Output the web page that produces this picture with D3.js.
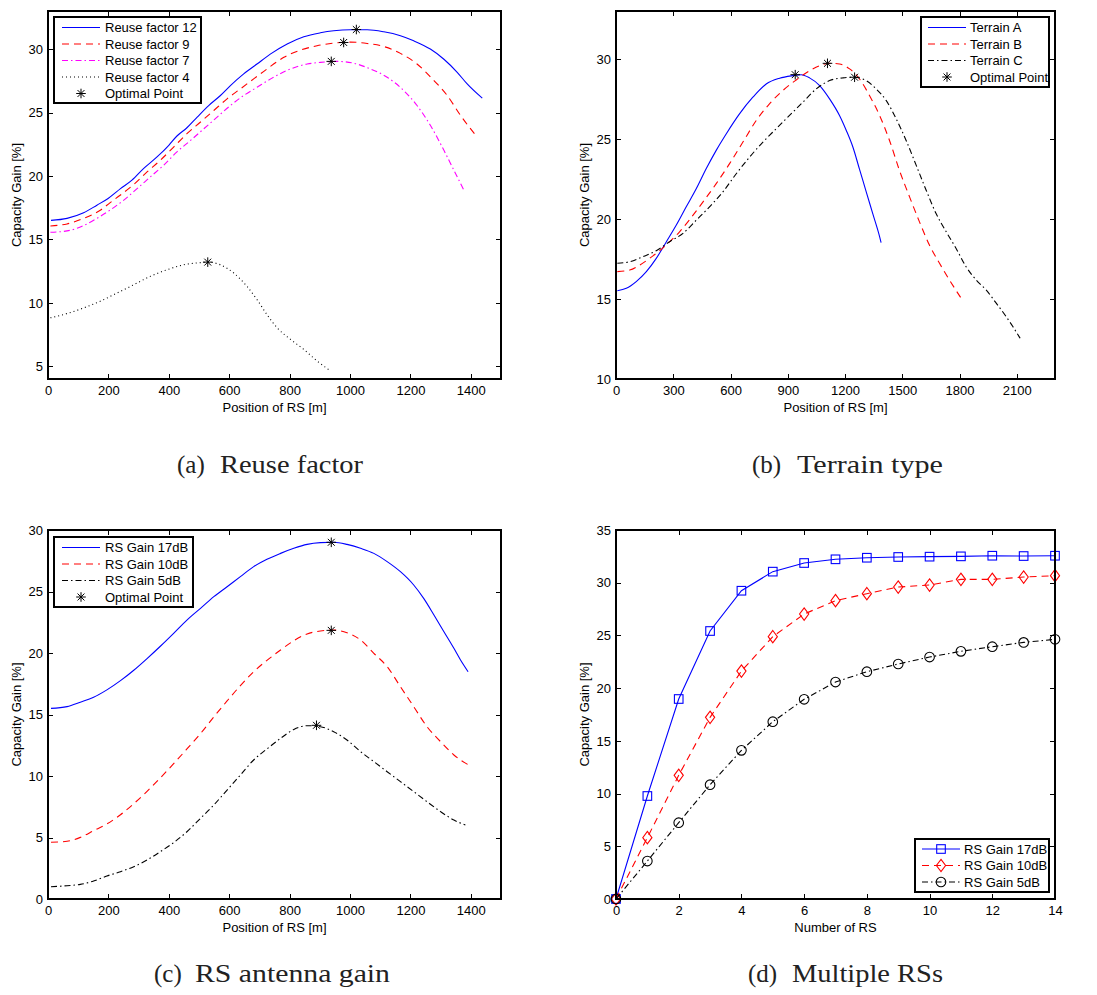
<!DOCTYPE html>
<html><head><meta charset="utf-8">
<script src="https://d3js.org/d3.v7.min.js"></script>
<style>body{margin:0;background:#fff}svg{display:block}</style>
</head><body>
<script>
// ---------- DATA ----------
// (a) Reuse factor  [position m, gain %]
const reuse12 = [[10,16.5],[63,16.66],[118,17.1],[162,17.7],[199,18.23],[240,19.0],[278,19.67],[317,20.6],[361,21.5],[400,22.42],[427,23.15],[460,23.8],[494,24.64],[532,25.55],[571,26.34],[604,27.12],[648,28.04],[692,28.82],[736,29.6],[792,30.4],[847,30.97],[902,31.28],[946,31.44],[1001,31.52],[1057,31.52],[1112,31.36],[1167,31.05],[1211,30.65],[1266,30.0],[1311,29.2],[1355,28.17],[1388,27.25],[1438,26.13]];
const reuse9 = [[8,16.06],[63,16.22],[118,16.66],[173,17.3],[206,17.9],[240,18.5],[284,19.33],[328,20.32],[372,21.24],[416,22.28],[460,23.33],[505,24.25],[549,25.16],[593,26.08],[637,26.86],[681,27.65],[725,28.43],[781,29.35],[836,29.92],[891,30.26],[946,30.47],[1001,30.55],[1057,30.44],[1112,30.2],[1167,29.66],[1222,28.82],[1278,27.52],[1322,26.34],[1366,24.77],[1421,23.07]];
const reuse7 = [[8,15.56],[63,15.67],[118,16.09],[162,16.66],[206,17.32],[251,18.1],[295,19.0],[339,19.93],[383,20.85],[427,21.9],[472,22.8],[516,23.72],[560,24.64],[604,25.55],[648,26.34],[692,26.99],[747,27.78],[803,28.43],[858,28.82],[902,28.95],[957,29.03],[1013,28.88],[1068,28.43],[1123,27.78],[1178,26.73],[1222,25.55],[1266,23.99],[1311,22.02],[1344,20.45],[1377,18.89]];
const reuse4 = [[8,8.82],[63,9.16],[118,9.6],[173,10.13],[229,10.78],[284,11.43],[339,12.09],[394,12.61],[449,13.0],[505,13.17],[529,13.21],[571,13.0],[615,12.35],[659,11.3],[692,10.26],[725,9.08],[759,8.03],[803,7.12],[847,6.33],[891,5.42],[936,4.63]];
const optimalReuse = [[1021,31.54],[979,30.52],[938,29.03],[529,13.21]];

// (b) Terrain type
const terrainA = [[7,15.52],[54,15.67],[106,16.09],[159,16.71],[211,17.54],[264,18.58],[316,19.62],[368,20.76],[421,21.9],[473,23.15],[525,24.29],[578,25.33],[647,26.57],[717,27.61],[787,28.44],[857,28.8],[927,28.96],[970,29.02],[1014,28.82],[1067,28.34],[1119,27.51],[1171,26.47],[1206,25.55],[1241,24.5],[1276,23.1],[1311,21.7],[1346,20.3],[1381,18.9],[1389,18.52]];
const terrainB = [[7,16.71],[72,16.81],[124,17.12],[176,17.54],[229,18.02],[281,18.58],[333,19.2],[386,19.97],[456,21.07],[525,22.21],[595,23.46],[665,24.81],[735,26.16],[804,27.2],[874,28.03],[944,28.69],[1014,29.27],[1066,29.58],[1119,29.73],[1171,29.69],[1224,29.38],[1276,28.75],[1328,27.72],[1381,26.47],[1433,24.91],[1485,23.04],[1538,21.38],[1590,19.82],[1642,18.37],[1695,17.23],[1747,16.19],[1808,15.05]];
const terrainC = [[7,17.23],[72,17.33],[141,17.64],[211,18.02],[281,18.58],[351,19.1],[421,19.93],[490,20.76],[560,21.69],[630,22.83],[700,23.87],[770,24.81],[839,25.64],[909,26.47],[979,27.3],[1049,28.13],[1119,28.65],[1189,28.82],[1250,28.86],[1311,28.65],[1363,28.13],[1416,27.4],[1468,26.26],[1520,24.91],[1573,23.35],[1625,21.8],[1677,20.34],[1730,19.2],[1782,18.16],[1834,17.02],[1887,16.19],[1939,15.57],[1992,14.74],[2044,13.9],[2079,13.28],[2117,12.55]];
const optimalTerrain = [[939,29.02],[1108,29.73],[1250,28.86]];

// (c) RS antenna gain
const gain17 = [[10,15.5],[63,15.64],[107,16.0],[151,16.4],[195,17.0],[240,17.75],[284,18.6],[328,19.55],[372,20.55],[416,21.6],[460,22.68],[505,23.63],[549,24.58],[593,25.39],[637,26.21],[681,27.02],[725,27.62],[770,28.1],[814,28.51],[858,28.83],[902,28.97],[946,29.0],[990,28.83],[1035,28.51],[1079,28.1],[1123,27.43],[1167,26.61],[1211,25.53],[1244,24.44],[1278,23.09],[1311,21.73],[1344,20.38],[1366,19.43],[1391,18.48]];
const gain10 = [[10,4.61],[63,4.69],[107,5.01],[151,5.55],[195,6.1],[240,6.85],[284,7.75],[328,8.75],[372,9.85],[416,11.0],[460,12.2],[505,13.45],[549,14.8],[593,16.1],[637,17.35],[681,18.48],[725,19.4],[770,20.24],[814,21.0],[858,21.55],[902,21.79],[946,21.87],[990,21.65],[1035,21.06],[1079,19.97],[1123,18.89],[1167,17.26],[1211,15.64],[1255,14.01],[1300,12.79],[1344,11.71],[1393,10.89]];
const gain5 = [[10,1.0],[63,1.08],[107,1.19],[151,1.46],[195,1.87],[240,2.22],[284,2.63],[328,3.17],[372,3.85],[416,4.58],[460,5.47],[505,6.56],[549,7.64],[593,8.86],[637,10.08],[681,11.3],[725,12.2],[770,13.06],[814,13.79],[858,14.09],[902,14.01],[946,13.6],[990,12.93],[1035,11.98],[1079,11.17],[1123,10.35],[1167,9.54],[1211,8.73],[1255,7.91],[1300,7.1],[1344,6.42],[1382,6.02]];
const optimalGain = [[938,29.0],[938,21.84],[889,14.12]];

// (d) Multiple RSs
const numRS = [0,1,2,3,4,5,6,7,8,9,10,11,12,13,14];
const multi17 = [0,9.77,18.97,25.42,29.24,31.05,31.87,32.22,32.37,32.44,32.47,32.5,32.56,32.53,32.56];
const multi10 = [0,5.82,11.73,17.23,21.62,24.88,27.03,28.3,28.96,29.59,29.78,30.32,30.32,30.54,30.67];
const multi5  = [0,3.6,7.24,10.84,14.1,16.82,18.94,20.58,21.56,22.29,22.95,23.49,23.93,24.34,24.63];

// tick labels
const ticksPos1400 = [0,200,400,600,800,1000,1200,1400];
const ticksPos2100 = [0,300,600,900,1200,1500,1800,2100];
const ticksNum = [0,2,4,6,8,10,12,14];
const ticksY_a = [5,10,15,20,25,30];
const ticksY_b = [10,15,20,25,30];
const ticksY_c = [0,5,10,15,20,25,30];
const ticksY_d = [0,5,10,15,20,25,30,35];

const captionTags = ["(a)", "(b)", "(c)", "(d)"];
const captionTitles = ["Reuse factor", "Terrain type", "RS antenna gain", "Multiple RSs"];

// ---------- DRAW ----------
const svg = d3.select("body").append("svg").attr("width",1097).attr("height",995);
const FONT = "'Liberation Sans', Arial, Helvetica, sans-serif";
const LW = 1.1;

const STYLES = {
  solid: null, dashed: "7,5", dashdot: "6,3,1.5,3", dotted: "1,3"
};

function asterisk(g, cx, cy, r) {
  const d = r*0.72;
  g.append("path")
    .attr("d", `M${cx-r},${cy}H${cx+r}M${cx},${cy-r}V${cy+r}M${cx-d},${cy-d}L${cx+d},${cy+d}M${cx-d},${cy+d}L${cx+d},${cy-d}`)
    .attr("stroke","#000").attr("stroke-width",1).attr("fill","none");
}
function marker(g, type, cx, cy, color) {
  if (type==="square") g.append("rect").attr("x",cx-4.3).attr("y",cy-4.3).attr("width",8.6).attr("height",8.6)
      .attr("fill","none").attr("stroke",color).attr("stroke-width",LW);
  else if (type==="diamond") g.append("path").attr("d",`M${cx},${cy-6.2}L${cx+4.6},${cy}L${cx},${cy+6.2}L${cx-4.6},${cy}Z`)
      .attr("fill","none").attr("stroke",color).attr("stroke-width",LW);
  else if (type==="circle") g.append("circle").attr("cx",cx).attr("cy",cy).attr("r",4.8)
      .attr("fill","none").attr("stroke",color).attr("stroke-width",LW);
}

function panel(cfg) {
  const {left, top, width, height} = cfg;
  const g = svg.append("g").attr("transform",`translate(${left},${top})`);
  const x = d3.scaleLinear().domain(cfg.xDomain).range([0,width]);
  const y = d3.scaleLinear().domain(cfg.yDomain).range([height,0]);

  const clip = "clip"+cfg.id;
  g.append("clipPath").attr("id",clip).append("rect").attr("width",width).attr("height",height);
  const line = d3.line().x(d=>x(d[0])).y(d=>y(d[1])).curve(cfg.curve || d3.curveMonotoneX);
  cfg.series.forEach(s => {
    g.append("path").datum(s.data).attr("d",line).attr("fill","none")
      .attr("stroke",s.color).attr("stroke-width",LW)
      .attr("stroke-dasharray",STYLES[s.style]).attr("clip-path",`url(#${clip})`);
    if (s.marker) s.data.forEach(d => marker(g, s.marker, x(d[0]), y(d[1]), s.color));
  });
  if (cfg.optimal) cfg.optimal.forEach(d => asterisk(g, x(d[0]), y(d[1]), 4.8));

  const fmt = d3.format("d");
  const axB = d3.axisBottom(x).tickValues(cfg.xTicks).tickFormat(fmt).tickSizeInner(-5).tickSizeOuter(0).tickPadding(7);
  const axL = d3.axisLeft(y).tickValues(cfg.yTicks).tickFormat(fmt).tickSizeInner(-5).tickSizeOuter(0).tickPadding(5);
  const axT = d3.axisTop(x).tickValues(cfg.xTicks).tickSizeInner(-5).tickSizeOuter(0).tickFormat("");
  const axR = d3.axisRight(y).tickValues(cfg.yTicks).tickSizeInner(-5).tickSizeOuter(0).tickFormat("");
  const styleAx = a => { a.select(".domain").remove(); a.selectAll("line").attr("stroke","#000").attr("shape-rendering","crispEdges");
      a.selectAll("text").attr("fill","#000").style("font-family",FONT).style("font-size","13px"); };
  g.append("g").attr("transform",`translate(0,${height})`).call(axB).call(styleAx);
  g.append("g").call(axL).call(styleAx);
  g.append("g").call(axT).call(styleAx);
  g.append("g").attr("transform",`translate(${width},0)`).call(axR).call(styleAx);
  g.append("rect").attr("x",0).attr("y",0).attr("width",width).attr("height",height)
    .attr("fill","none").attr("stroke","#000").attr("stroke-width",1.2).attr("shape-rendering","crispEdges");

  g.append("text").attr("x",width/2).attr("y",height+33).attr("text-anchor","middle")
    .style("font-family",FONT).style("font-size","13px").text(cfg.xLabel);
  g.append("text").attr("transform",`translate(-27,${height/2}) rotate(-90)`).attr("text-anchor","middle")
    .style("font-family",FONT).style("font-size","13px").text("Capacity Gain [%]");

  const L = cfg.legend;
  const lg = svg.append("g").attr("transform",`translate(${L.x},${L.y})`);
  lg.append("rect").attr("width",L.w).attr("height",L.h).attr("fill","#fff").attr("stroke","#000").attr("stroke-width",1.2)
    .attr("shape-rendering","crispEdges");
  L.items.forEach((it,i) => {
    const cy = L.first + i*L.step;
    if (it.style) lg.append("line").attr("x1",L.lx1).attr("x2",L.lx2).attr("y1",cy).attr("y2",cy)
      .attr("stroke",it.color).attr("stroke-width",LW).attr("stroke-dasharray",STYLES[it.style]);
    if (it.marker==="asterisk") asterisk(lg,(L.lx1+L.lx2)/2,cy,4.8);
    else if (it.marker) marker(lg,it.marker,(L.lx1+L.lx2)/2,cy,it.color);
    lg.append("text").attr("x",L.tx).attr("y",cy).attr("dy","0.35em")
      .style("font-family",FONT).style("font-size","13px").text(it.label);
  });
}

panel({id:"a", left:48, top:11, width:453, height:368, xDomain:[0,1500], yDomain:[4,33],
  xTicks:ticksPos1400, yTicks:ticksY_a, xLabel:"Position of RS [m]",
  series:[{data:reuse12,color:"#0000ff",style:"solid"},{data:reuse9,color:"#ff0000",style:"dashed"},
          {data:reuse7,color:"#ff00ff",style:"dashdot"},{data:reuse4,color:"#000",style:"dotted"}],
  optimal:optimalReuse,
  legend:{x:54,y:17,w:147,h:86,first:10.5,step:16.5,lx1:8,lx2:46,tx:51,
    items:[{label:"Reuse factor 12",color:"#0000ff",style:"solid"},{label:"Reuse factor 9",color:"#ff0000",style:"dashed"},
           {label:"Reuse factor 7",color:"#ff00ff",style:"dashdot"},{label:"Reuse factor 4",color:"#000",style:"dotted"},
           {label:"Optimal Point",marker:"asterisk"}]}});

panel({id:"b", left:616, top:11, width:439, height:368, xDomain:[0,2300], yDomain:[10,33],
  xTicks:ticksPos2100, yTicks:ticksY_b, xLabel:"Position of RS [m]",
  series:[{data:terrainA,color:"#0000ff",style:"solid"},{data:terrainB,color:"#ff0000",style:"dashed"},
          {data:terrainC,color:"#000",style:"dashdot"}],
  optimal:optimalTerrain,
  legend:{x:921,y:17,w:128,h:70,first:10.5,step:16.5,lx1:7,lx2:45,tx:49,
    items:[{label:"Terrain A",color:"#0000ff",style:"solid"},{label:"Terrain B",color:"#ff0000",style:"dashed"},
           {label:"Terrain C",color:"#000",style:"dashdot"},{label:"Optimal Point",marker:"asterisk"}]}});

panel({id:"c", left:48, top:530, width:453, height:369, xDomain:[0,1500], yDomain:[0,30],
  xTicks:ticksPos1400, yTicks:ticksY_c, xLabel:"Position of RS [m]",
  series:[{data:gain17,color:"#0000ff",style:"solid"},{data:gain10,color:"#ff0000",style:"dashed"},
          {data:gain5,color:"#000",style:"dashdot"}],
  optimal:optimalGain,
  legend:{x:54,y:537,w:139,h:70,first:10.5,step:16.5,lx1:8,lx2:46,tx:51,
    items:[{label:"RS Gain 17dB",color:"#0000ff",style:"solid"},{label:"RS Gain 10dB",color:"#ff0000",style:"dashed"},
           {label:"RS Gain 5dB",color:"#000",style:"dashdot"},{label:"Optimal Point",marker:"asterisk"}]}});

panel({id:"d", left:616, top:530, width:439, height:369, xDomain:[0,14], yDomain:[0,35],
  xTicks:ticksNum, yTicks:ticksY_d, xLabel:"Number of RS", curve:d3.curveLinear,
  series:[{data:numRS.map((n,i)=>[n,multi17[i]]),color:"#0000ff",style:"solid",marker:"square"},
          {data:numRS.map((n,i)=>[n,multi10[i]]),color:"#ff0000",style:"dashed",marker:"diamond"},
          {data:numRS.map((n,i)=>[n,multi5[i]]),color:"#000",style:"dashdot",marker:"circle"}],
  legend:{x:915,y:839,w:134,h:53,first:10,step:16.5,lx1:7,lx2:45,tx:49,
    items:[{label:"RS Gain 17dB",color:"#0000ff",style:"solid",marker:"square"},
           {label:"RS Gain 10dB",color:"#ff0000",style:"dashed",marker:"diamond"},
           {label:"RS Gain 5dB",color:"#000",style:"dashdot",marker:"circle"}]}});

// captions: [tag x, title x, baseline y, title length]
const capLayout = [[177,220,473,143],[752,797,473,146],[154,195,982,195],[748,792,982,151]];
capLayout.forEach((p,i) => {
  const st = t => t.style("font-family","'Liberation Serif','DejaVu Serif',serif").style("font-size","25px").attr("fill","#222");
  svg.append("text").attr("x",p[0]).attr("y",p[2]).call(st).text(captionTags[i]);
  svg.append("text").attr("x",p[1]).attr("y",p[2]).attr("textLength",p[3]).attr("lengthAdjust","spacingAndGlyphs")
    .call(st).text(captionTitles[i]);
});
</script>
</body></html>
